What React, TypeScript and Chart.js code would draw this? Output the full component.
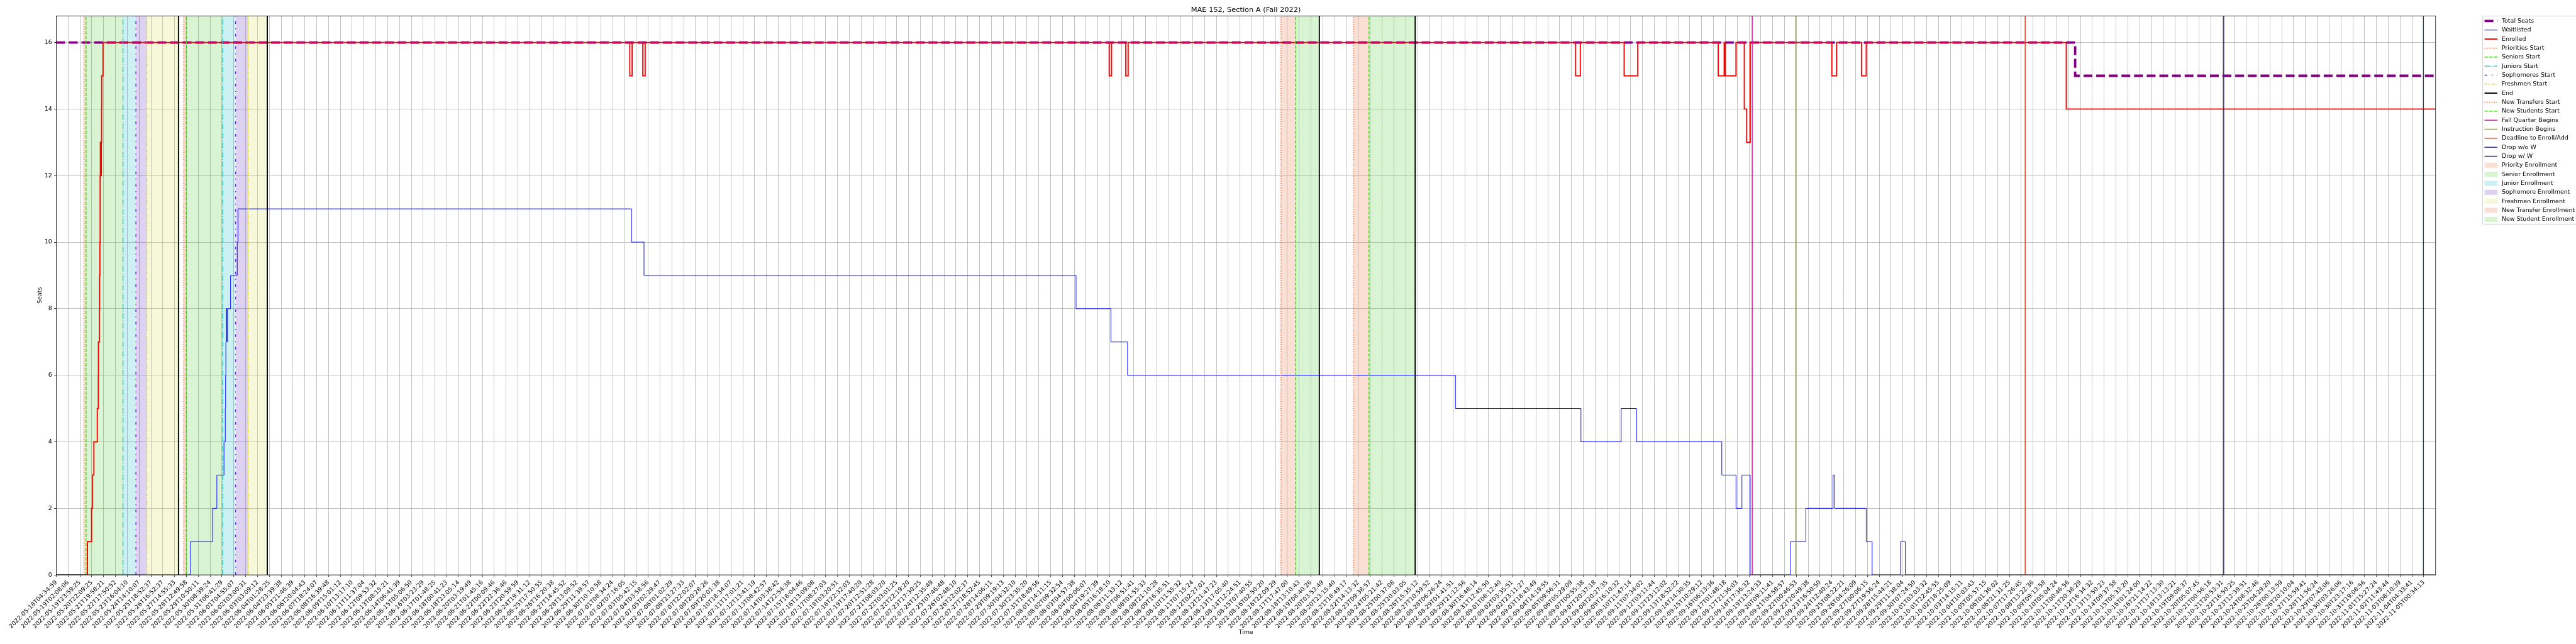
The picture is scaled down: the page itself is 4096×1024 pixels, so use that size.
import React, { useEffect, useRef } from 'react';
import { Chart, registerables } from 'chart.js';

Chart.register(...registerables);

const S = 4096 / 6000;
const W = 4096;
const H = 1024;
const FONT = '"DejaVu Sans", sans-serif';

const titleText = 'MAE 152, Section A (Fall 2022)';
const xTitle = 'Time';
const yTitle = 'Seats';

const tickLabels = [
  '2022-05-18T04:34:59', '2022-05-19T02:08:06', '2022-05-19T23:59:25', '2022-05-20T22:09:25', '2022-05-21T19:58:21',
  '2022-05-22T17:50:52', '2022-05-23T16:04:10', '2022-05-24T14:10:07', '2022-05-25T18:52:37', '2022-05-26T16:52:37',
  '2022-05-27T14:55:33', '2022-05-28T12:49:58', '2022-05-29T10:50:11', '2022-05-30T08:39:24', '2022-05-31T06:41:29',
  '2022-06-01T04:55:07', '2022-06-02T03:00:31', '2022-06-03T03:09:12', '2022-06-04T01:28:25', '2022-06-04T23:39:38',
  '2022-06-05T21:46:39', '2022-06-06T20:04:43', '2022-06-07T18:24:07', '2022-06-08T16:39:48', '2022-06-09T15:01:12',
  '2022-06-10T13:17:10', '2022-06-11T11:37:04', '2022-06-12T09:53:32', '2022-06-13T08:15:21', '2022-06-14T06:41:39',
  '2022-06-15T05:06:50', '2022-06-16T03:23:29', '2022-06-17T01:48:25', '2022-06-18T00:41:23', '2022-06-18T23:05:14',
  '2022-06-20T03:19:49', '2022-06-21T01:45:16', '2022-06-22T00:09:46', '2022-06-22T22:36:46', '2022-06-23T20:59:59',
  '2022-06-24T19:31:12', '2022-06-25T17:50:55', '2022-06-26T16:20:38', '2022-06-27T14:45:52', '2022-06-28T13:09:52',
  '2022-06-29T11:39:57', '2022-06-30T10:10:58', '2022-07-01T08:34:24', '2022-07-02T07:16:05', '2022-07-03T05:42:15',
  '2022-07-04T03:58:56', '2022-07-05T02:29:47', '2022-07-06T01:02:29', '2022-07-06T23:27:33', '2022-07-07T22:02:07',
  '2022-07-08T20:28:26', '2022-07-09T20:01:38', '2022-07-10T18:34:07', '2022-07-11T17:01:21', '2022-07-12T13:41:19',
  '2022-07-13T08:42:57', '2022-07-14T03:38:42', '2022-07-14T22:54:38', '2022-07-15T18:04:46', '2022-07-16T13:09:08',
  '2022-07-17T08:27:03', '2022-07-18T03:20:51', '2022-07-18T22:32:03', '2022-07-19T17:40:20', '2022-07-20T12:51:28',
  '2022-07-21T08:03:20', '2022-07-22T03:01:25', '2022-07-22T22:19:20', '2022-07-23T17:30:25', '2022-07-24T12:35:49',
  '2022-07-25T07:46:48', '2022-07-26T02:48:10', '2022-07-26T22:02:37', '2022-07-27T18:52:45', '2022-07-28T14:06:11',
  '2022-07-29T09:19:13', '2022-07-30T04:32:10', '2022-07-30T23:35:20', '2022-07-31T18:49:56', '2022-08-01T14:11:15',
  '2022-08-02T09:32:54', '2022-08-03T04:57:38', '2022-08-04T00:06:07', '2022-08-04T19:27:39', '2022-08-05T16:18:10',
  '2022-08-06T11:33:12', '2022-08-07T06:51:41', '2022-08-08T01:55:33', '2022-08-08T21:10:28', '2022-08-09T16:35:51',
  '2022-08-10T11:55:32', '2022-08-11T07:15:24', '2022-08-12T02:27:01', '2022-08-12T21:47:23', '2022-08-13T17:05:40',
  '2022-08-14T12:24:51', '2022-08-15T07:40:55', '2022-08-16T02:50:20', '2022-08-16T22:09:29', '2022-08-17T17:47:00',
  '2022-08-18T13:10:43', '2022-08-19T08:40:26', '2022-08-20T03:53:49', '2022-08-20T23:15:40', '2022-08-21T18:49:17',
  '2022-08-22T14:13:32', '2022-08-23T09:38:57', '2022-08-24T05:21:42', '2022-08-25T00:37:08', '2022-08-25T20:03:05',
  '2022-08-26T15:35:12', '2022-08-27T10:59:52', '2022-08-28T06:26:24', '2022-08-29T01:41:51', '2022-08-29T21:12:56',
  '2022-08-30T16:48:14', '2022-08-31T12:45:50', '2022-09-01T08:12:40', '2022-09-02T03:35:51', '2022-09-02T23:11:27',
  '2022-09-03T18:43:49', '2022-09-04T14:19:55', '2022-09-05T09:56:31', '2022-09-06T05:29:09', '2022-09-07T00:55:38',
  '2022-09-07T20:37:18', '2022-09-08T20:27:35', '2022-09-09T16:10:32', '2022-09-10T11:47:14', '2022-09-11T07:34:02',
  '2022-09-12T03:11:44', '2022-09-12T23:12:02', '2022-09-13T18:52:22', '2022-09-14T14:30:35', '2022-09-15T10:29:12',
  '2022-09-16T06:13:36', '2022-09-17T01:48:18', '2022-09-17T21:36:03', '2022-09-18T17:36:32', '2022-09-19T13:24:33',
  '2022-09-20T09:11:41', '2022-09-21T04:58:57', '2022-09-22T00:46:53', '2022-09-22T20:49:38', '2022-09-23T16:50:50',
  '2022-09-24T12:40:24', '2022-09-25T08:22:21', '2022-09-26T04:26:09', '2022-09-27T00:06:15', '2022-09-27T19:56:24',
  '2022-09-28T15:44:21', '2022-09-29T11:38:04', '2022-09-30T07:24:50', '2022-10-01T03:03:32', '2022-10-01T22:45:55',
  '2022-10-02T18:25:09', '2022-10-03T14:15:11', '2022-10-04T10:03:43', '2022-10-05T05:57:15', '2022-10-06T01:36:02',
  '2022-10-06T21:31:25', '2022-10-07T17:26:45', '2022-10-08T13:22:36', '2022-10-09T09:13:58', '2022-10-10T05:04:24',
  '2022-10-11T00:46:56', '2022-10-11T20:38:29', '2022-10-12T16:34:32', '2022-10-13T13:50:23', '2022-10-14T09:37:58',
  '2022-10-15T05:33:20', '2022-10-16T01:24:00', '2022-10-16T21:14:22', '2022-10-17T17:13:30', '2022-10-18T13:13:21',
  '2022-10-19T09:08:37', '2022-10-20T05:07:45', '2022-10-21T00:56:18', '2022-10-21T20:53:31', '2022-10-22T16:50:25',
  '2022-10-23T12:39:51', '2022-10-24T08:32:46', '2022-10-25T04:29:20', '2022-10-26T00:13:59', '2022-10-26T20:10:04',
  '2022-10-27T15:59:41', '2022-10-28T11:56:24', '2022-10-29T07:43:06', '2022-10-30T03:26:06', '2022-10-30T23:17:16',
  '2022-10-31T19:08:56', '2022-11-01T15:27:24', '2022-11-02T11:43:44', '2022-11-03T08:10:39', '2022-11-04T04:33:41',
  '2022-11-05T00:34:13',
];

const yTicks = [0, 2, 4, 6, 8, 10, 12, 14, 16];
const yMax = 16.8;
const xMax = 201;

// step series: x = position on the time axis (tick units), y = seats from that point on
const totalSeatsX = [0, 170.55, 201];
const totalSeatsY = [16, 15, 15];

const enrolledX = [
  0, 2.635, 2.985, 3.07, 3.18, 3.47, 3.555, 3.565, 3.64, 3.66, 3.69, 3.71, 3.73, 3.76, 3.78, 3.8, 3.81, 3.83, 3.84, 3.95,
  48.45, 48.65, 49.55, 49.75, 88.95, 89.15, 90.35, 90.55, 128.35, 128.75, 132.45, 133.6,
  140.4, 140.9, 141.0, 141.9, 142.6, 142.8, 143.1,
  150.0, 150.4, 152.5, 152.9, 169.8, 201,
];
const enrolledY = [
  0, 1, 2, 3, 4, 5, 6, 7, 8, 9, 10, 12, 13, 12, 13, 12, 13, 14, 15, 16,
  15, 16, 15, 16, 15, 16, 15, 16, 15, 16, 15, 16,
  15, 16, 15, 16, 14, 13, 16,
  15, 16, 15, 16, 14, 14,
];

const waitlistedX = [
  0, 11.34, 13.21, 13.57, 14.17, 14.28, 14.31, 14.33, 14.35, 14.42, 14.47, 14.73, 15.29, 15.35,
  48.6, 49.65, 86.15, 89.1, 90.5, 118.2, 128.8, 132.2, 133.5, 140.7, 141.9, 142.4, 143.1,
  146.5, 147.8, 150.1, 150.25, 152.9, 153.4, 155.8, 156.2, 201,
];
const waitlistedY = [
  0, 1, 2, 3, 4, 5, 6, 7, 8, 7, 8, 9, 10, 11,
  10, 9, 8, 7, 6, 5, 4, 5, 4, 3, 2, 3, 0,
  1, 2, 3, 2, 1, 0, 1, 0, 0,
];

// event markers (tick units)
const prioritiesStart = [2.34, 10.77];
const seniorsStart = [2.52, 10.99];
const juniorsStart = [5.64, 14.06];
const sophomoresStart = [6.73, 15.15];
const freshmenStart = [7.65, 16.21];
const endMarks = [10.33, 17.83, 106.7, 114.8];
const newTransfersStart = [103.46, 109.6];
const newStudentsStart = [104.7, 110.9];
const fallQuarterBegins = [143.27];
const instructionBegins = [146.95];
const deadlineEnroll = [166.33];
const dropWithoutW = [183.1];
const dropWithW = [199.97];

// enrollment windows [start, end] (tick units)
const priorityWindows = [[2.34, 2.52], [10.77, 10.99]];
const seniorWindows = [[2.52, 5.64], [10.99, 14.06]];
const juniorWindows = [[5.64, 6.73], [14.06, 15.15]];
const sophomoreWindows = [[6.73, 7.65], [15.15, 16.21]];
const freshmenWindows = [[7.65, 10.33], [16.21, 17.83]];
const newTransferWindows = [[103.46, 104.7], [109.6, 110.9]];
const newStudentWindows = [[104.7, 106.7], [110.9, 114.8]];

const legendLabels = [
  'Total Seats', 'Waitlisted', 'Enrolled', 'Priorities Start', 'Seniors Start', 'Juniors Start',
  'Sophomores Start', 'Freshmen Start', 'End', 'New Transfers Start', 'New Students Start',
  'Fall Quarter Begins', 'Instruction Begins', 'Deadline to Enroll/Add', 'Drop w/o W', 'Drop w/ W',
  'Priority Enrollment', 'Senior Enrollment', 'Junior Enrollment', 'Sophomore Enrollment',
  'Freshmen Enrollment', 'New Transfer Enrollment', 'New Student Enrollment',
];

// ---- styling helpers ----
const PT = (100 / 72) * S; // one matplotlib point in canvas px
const LW = 1.5;
const dotted = [1 * LW * PT, 1.65 * LW * PT];
const dashed = [3.7 * LW * PT, 1.6 * LW * PT];
const dashdot = [6.4 * LW * PT, 1.6 * LW * PT, 1 * LW * PT, 1.6 * LW * PT];
const loosedashdot = [3 * LW * PT, 5 * LW * PT, 1 * LW * PT, 5 * LW * PT];
const dashdotdot = [3 * LW * PT, 1 * LW * PT, 1 * LW * PT, 1 * LW * PT, 1 * LW * PT, 1 * LW * PT];

const toPoints = (xs: number[], ys: number[]) => xs.map((x, i) => ({ x, y: ys[i] }));

function vlines(label: string, xs: number[], color: string, dash: number[], width = LW * PT) {
  return xs.map((x) => ({
    label,
    data: [{ x, y: 0 }, { x, y: yMax }],
    borderColor: color,
    borderWidth: width,
    borderDash: dash,
    pointRadius: 0,
    fill: false,
    order: 1,
  }));
}

function spans(label: string, windows: number[][], color: string) {
  return windows.map(([a, b]) => ({
    label,
    data: [{ x: a, y: yMax }, { x: b, y: yMax }],
    borderColor: 'rgba(0,0,0,0)',
    borderWidth: 1,
    backgroundColor: color,
    pointRadius: 0,
    fill: 'origin',
    order: 20,
  }));
}

const decorPlugin = {
  id: 'decor',
  afterDatasetsDraw(chart: any) {
    const { ctx, chartArea: a } = chart;
    ctx.save();
    ctx.strokeStyle = '#000';
    ctx.lineWidth = 0.8 * PT;
    ctx.setLineDash([]);
    ctx.strokeRect(a.left, a.top, a.right - a.left, a.bottom - a.top);
    ctx.restore();
  },
  afterDraw(chart: any) {
    const { ctx, chartArea: a } = chart;
    ctx.save();
    ctx.fillStyle = '#000';
    // title
    ctx.font = `${12 * PT}px ${FONT}`;
    ctx.textAlign = 'center';
    ctx.textBaseline = 'middle';
    ctx.fillText(titleText, (a.left + a.right) / 2, 23 * S);
    // axis titles
    ctx.font = `${10 * PT}px ${FONT}`;
    ctx.fillText(xTitle, (a.left + a.right) / 2, 1473 * S);
    ctx.save();
    ctx.translate(93 * S, (a.top + a.bottom) / 2);
    ctx.rotate(-Math.PI / 2);
    ctx.fillText(yTitle, 0, 0);
    ctx.restore();

    // legend
    const lx = 5782.7 * S;
    const ly = 37.3 * S;
    const rowH = 21 * S;
    const row0 = 49 * S;
    const boxH = (522 - 37.3) * S;
    ctx.beginPath();
    const r = 2.8 * S;
    const bx = lx, by = ly, bw = W + 20 - lx, bh = boxH;
    ctx.moveTo(bx + r, by);
    ctx.lineTo(bx + bw, by);
    ctx.lineTo(bx + bw, by + bh);
    ctx.lineTo(bx + r, by + bh);
    ctx.quadraticCurveTo(bx, by + bh, bx, by + bh - r);
    ctx.lineTo(bx, by + r);
    ctx.quadraticCurveTo(bx, by, bx + r, by);
    ctx.fillStyle = 'rgba(255,255,255,0.8)';
    ctx.fill();
    ctx.strokeStyle = '#cccccc';
    ctx.lineWidth = 1 * PT;
    ctx.stroke();

    const hx0 = 5787 * S;
    const hx1 = 5817 * S;
    const tx = 5827 * S;
    legendLabels.forEach((label, i) => {
      const ds = chart.data.datasets.find((d: any) => d.label === label);
      if (!ds) return;
      const y = row0 + i * rowH;
      if (ds.fill === 'origin') {
        ctx.fillStyle = ds.backgroundColor;
        const ph = 11.7 * S;
        ctx.fillRect(hx0, y - ph / 2, hx1 - hx0, ph);
      } else {
        ctx.strokeStyle = ds.borderColor;
        ctx.lineWidth = ds.borderWidth;
        ctx.setLineDash(ds.borderDash || []);
        ctx.beginPath();
        ctx.moveTo(hx0, y);
        ctx.lineTo(hx1, y);
        ctx.stroke();
        ctx.setLineDash([]);
      }
      ctx.fillStyle = '#000';
      ctx.font = `${10 * PT}px ${FONT}`;
      ctx.textAlign = 'left';
      ctx.textBaseline = 'middle';
      ctx.fillText(label, tx, y);
    });
    ctx.restore();
  },
};

export default function App() {
  const ref = useRef<HTMLCanvasElement | null>(null);

  useEffect(() => {
    if (!ref.current) return;
    const orange = '#f0652d';
    const green = '#44cc1d';
    const datasets: any[] = [
      {
        label: 'Total Seats',
        data: toPoints(totalSeatsX, totalSeatsY),
        borderColor: '#800080',
        borderWidth: 4 * PT,
        borderDash: [3.7 * 4 * PT, 1.6 * 4 * PT],
        stepped: true,
        pointRadius: 0,
        fill: false,
        order: 7,
      },
      {
        label: 'Waitlisted',
        data: toPoints(waitlistedX, waitlistedY),
        borderColor: '#0000ff',
        borderWidth: 1 * PT,
        stepped: true,
        pointRadius: 0,
        fill: false,
        order: 6,
      },
      {
        label: 'Enrolled',
        data: toPoints(enrolledX, enrolledY),
        borderColor: '#ff0000',
        borderWidth: 2 * PT,
        stepped: true,
        pointRadius: 0,
        fill: false,
        order: 5,
      },
      ...vlines('Priorities Start', prioritiesStart, orange, dotted),
      ...vlines('Seniors Start', seniorsStart, green, dashed),
      ...vlines('Juniors Start', juniorsStart, '#13c6d6', dashdot),
      ...vlines('Sophomores Start', sophomoresStart, '#6a22d6', loosedashdot),
      ...vlines('Freshmen Start', freshmenStart, '#d8d82a', dashdotdot),
      ...vlines('End', endMarks, '#000000', [], 2 * PT),
      ...vlines('New Transfers Start', newTransfersStart, orange, dotted),
      ...vlines('New Students Start', newStudentsStart, green, dashed),
      ...vlines('Fall Quarter Begins', fallQuarterBegins, '#e0119f', [], LW * PT),
      ...vlines('Instruction Begins', instructionBegins, '#8ab114', [], LW * PT),
      ...vlines('Deadline to Enroll/Add', deadlineEnroll, '#d9411c', [], LW * PT),
      ...vlines('Drop w/o W', dropWithoutW, '#2e2486', [], LW * PT),
      ...vlines('Drop w/ W', dropWithW, '#2e3b59', [], LW * PT),
      ...spans('Priority Enrollment', priorityWindows, 'rgba(232,110,60,0.22)'),
      ...spans('Senior Enrollment', seniorWindows, 'rgba(60,200,30,0.2)'),
      ...spans('Junior Enrollment', juniorWindows, 'rgba(5,180,190,0.2)'),
      ...spans('Sophomore Enrollment', sophomoreWindows, 'rgba(90,30,195,0.2)'),
      ...spans('Freshmen Enrollment', freshmenWindows, 'rgba(215,215,65,0.2)'),
      ...spans('New Transfer Enrollment', newTransferWindows, 'rgba(232,110,60,0.22)'),
      ...spans('New Student Enrollment', newStudentWindows, 'rgba(60,200,30,0.2)'),
    ];

    const plotLeft = 131 * S;
    const plotRight = 5673 * S;
    const plotTop = 37 * S;
    const plotBottom = 1339 * S;

    const chart = new Chart(ref.current, {
      type: 'line',
      data: { datasets },
      options: {
        animation: false,
        responsive: false,
        maintainAspectRatio: false,
        devicePixelRatio: 1,
        events: [],
        layout: { padding: { left: 0, right: W - plotRight, top: plotTop, bottom: 0 } },
        plugins: {
          legend: { display: false },
          title: { display: false },
          tooltip: { enabled: false },
        },
        scales: {
          x: {
            type: 'linear',
            min: 0,
            max: xMax,
            afterBuildTicks: (scale: any) => {
              scale.ticks = tickLabels.map((_, i) => ({ value: i }));
            },
            afterFit: (scale: any) => {
              scale.height = H - plotBottom;
            },
            ticks: {
              autoSkip: false,
              minRotation: 45,
              maxRotation: 45,
              padding: 3.5 * PT,
              color: '#000',
              font: { family: FONT, size: 10 * PT },
              callback: (v: any) => tickLabels[Math.round(v)],
            },
            grid: {
              color: '#b0b0b0',
              lineWidth: 0.8 * PT,
              tickLength: 3.5 * PT,
              tickColor: '#000',
              tickWidth: 0.8 * PT,
            },
            border: { display: false },
          },
          y: {
            type: 'linear',
            min: 0,
            max: yMax,
            afterBuildTicks: (scale: any) => {
              scale.ticks = yTicks.map((v) => ({ value: v }));
            },
            afterFit: (scale: any) => {
              scale.width = plotLeft;
            },
            ticks: {
              padding: 3.5 * PT,
              color: '#000',
              font: { family: FONT, size: 10 * PT },
              callback: (v: any) => String(v),
            },
            grid: {
              color: '#b0b0b0',
              lineWidth: 0.8 * PT,
              tickLength: 3.5 * PT,
              tickColor: '#000',
              tickWidth: 0.8 * PT,
            },
            border: { display: false },
          },
        },
      },
      plugins: [decorPlugin],
    } as any);

    return () => chart.destroy();
  }, []);

  return (
    <div style={{ position: 'absolute', left: 0, top: 0, width: W, height: H, background: '#fff' }}>
      <canvas ref={ref} width={W} height={H} style={{ display: 'block', width: W, height: H }} />
    </div>
  );
}
